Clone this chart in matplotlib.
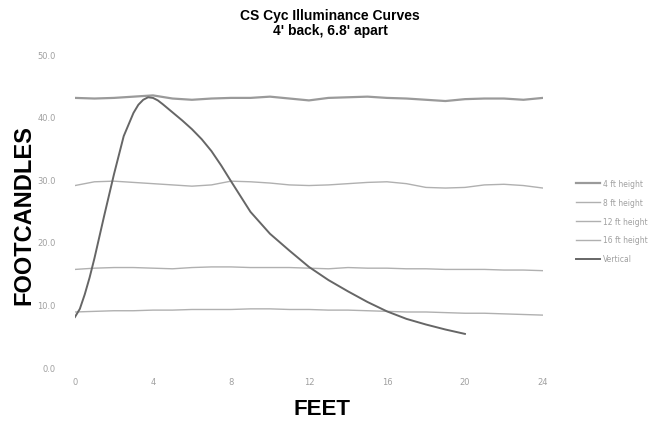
import numpy as np
import matplotlib.pyplot as plt

# horizontal distance along the cyc (ft)
feet = np.arange(0, 25)

# footcandles measured at each height, every foot
fc_4ft = [43.0, 42.9, 43.0, 43.2, 43.4, 42.9, 42.7, 42.9, 43.0, 43.0, 43.2, 42.9, 42.6,
          43.0, 43.1, 43.2, 43.0, 42.9, 42.7, 42.5, 42.8, 42.9, 42.9, 42.7, 43.0]
fc_8ft = [29.0, 29.6, 29.7, 29.5, 29.3, 29.1, 28.9, 29.1, 29.7, 29.6, 29.4, 29.1, 29.0,
          29.1, 29.3, 29.5, 29.6, 29.3, 28.7, 28.6, 28.7, 29.1, 29.2, 29.0, 28.6]
fc_12ft = [15.6, 15.8, 15.9, 15.9, 15.8, 15.7, 15.9, 16.0, 16.0, 15.9, 15.9, 15.9, 15.8,
           15.7, 15.9, 15.8, 15.8, 15.7, 15.7, 15.6, 15.6, 15.6, 15.5, 15.5, 15.4]
fc_16ft = [8.8, 8.9, 9.0, 9.0, 9.1, 9.1, 9.2, 9.2, 9.2, 9.3, 9.3, 9.2, 9.2,
           9.1, 9.1, 9.0, 8.9, 8.8, 8.8, 8.7, 8.6, 8.6, 8.5, 8.4, 8.3]

# vertical profile (height above deck, ft)
vert_ft = [0, 0.25, 0.5, 0.75, 1, 1.5, 2, 2.5, 3, 3.25, 3.5, 3.75, 4, 4.25, 4.5, 5, 5.5,
           6, 6.5, 7, 7.5, 8, 9, 10, 11, 12, 13, 14, 15, 16, 17, 18, 19, 20]
fc_vert = [8.0, 9.3, 11.6, 14.3, 17.4, 24.2, 30.8, 36.9, 40.6, 41.9, 42.7, 43.1, 43.0,
           42.6, 42.0, 40.7, 39.4, 38.0, 36.4, 34.5, 32.2, 29.7, 24.8, 21.3, 18.6, 16.0,
           13.9, 12.1, 10.4, 8.9, 7.7, 6.8, 6.0, 5.3]

labels = ["4 ft height", "8 ft height", "12 ft height", "16 ft height", "Vertical"]

fig = plt.figure(figsize=(6.6, 4.27), dpi=100)
ax = fig.add_axes([0.1136, 0.138, 0.709, 0.733])

ax.plot(feet, fc_4ft, color="#9a9a9a", lw=1.6, label=labels[0])
ax.plot(feet, fc_8ft, color="#b0b0b0", lw=1.0, label=labels[1])
ax.plot(feet, fc_12ft, color="#b0b0b0", lw=1.0, label=labels[2])
ax.plot(feet, fc_16ft, color="#b0b0b0", lw=1.0, label=labels[3])
ax.plot(vert_ft, fc_vert, color="#666666", lw=1.4, label=labels[4])

ax.set_xlim(0, 24)
ax.set_ylim(0, 50)
ax.set_xticks(np.arange(0, 25, 4))
ax.set_yticks(np.arange(0, 51, 10))
ax.set_yticklabels([f"{v:.1f}" for v in np.arange(0, 51, 10)])
ax.tick_params(length=0, labelsize=6, labelcolor="#a0a0a0")
ax.tick_params(axis="y", pad=14)
ax.tick_params(axis="x", pad=7)
for s in ax.spines.values():
    s.set_visible(False)

# axis titles placed directly on the figure
fig.text(0.036, 0.496, "FOOTCANDLES", rotation=90, ha="center", va="center",
         fontsize=17, fontweight="bold", family="Liberation Sans")
fig.text(0.488, 0.042, "FEET", ha="center", va="center",
         fontsize=16, fontweight="bold", family="Liberation Sans")
fig.suptitle("CS Cyc Illuminance Curves\n4' back, 6.8' apart", x=0.5, y=0.978,
             fontsize=10, fontweight="bold", family="Liberation Sans", linespacing=1.1)

leg = ax.legend(loc="center left", bbox_to_anchor=(0.862, 0.48), bbox_transform=fig.transFigure,
                frameon=False, fontsize=5.5, handlelength=3.2, labelspacing=1.3,
                handletextpad=0.4)
for t in leg.get_texts():
    t.set_color("#a0a0a0")

fig.savefig("out.png", dpi=100)
